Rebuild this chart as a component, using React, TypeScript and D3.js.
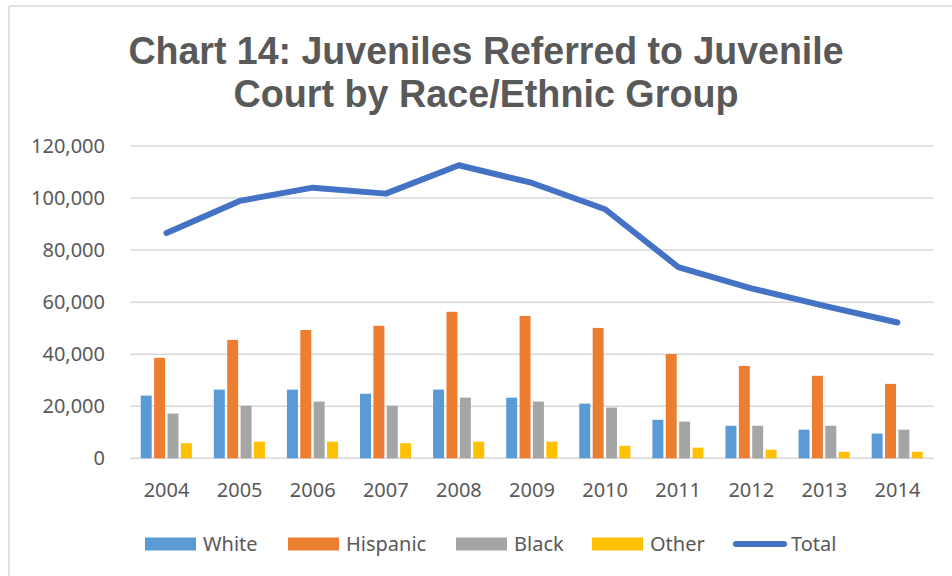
import React, { useEffect, useRef } from "react";
import * as d3 from "d3";

const years = ["2004", "2005", "2006", "2007", "2008", "2009", "2010", "2011", "2012", "2013", "2014"];
const seriesNames = ["White", "Hispanic", "Black", "Other"];
const white = [24100, 26400, 26400, 24800, 26400, 23300, 21000, 14800, 12500, 11000, 9500];
const hispanic = [38600, 45500, 49300, 50900, 56300, 54700, 50100, 40100, 35500, 31700, 28600];
const black = [17200, 20200, 21800, 20200, 23300, 21800, 19500, 14100, 12500, 12500, 11000];
const other = [5800, 6400, 6400, 5800, 6400, 6400, 4800, 4100, 3300, 2500, 2500];
const total = [86600, 98900, 104000, 101700, 112600, 105800, 95700, 73500, 65300, 58600, 52200];
const yTicks = [0, 20000, 40000, 60000, 80000, 100000, 120000];
const colors = ["#5B9BD5", "#ED7D31", "#A5A5A5", "#FFC000"];
const totalColor = "#4472C4";
const titleLines = ["Chart 14: Juveniles Referred to Juvenile", "Court by Race/Ethnic Group"];

export default function App() {
  const ref = useRef<SVGSVGElement>(null);
  useEffect(() => {
    const svg = d3.select(ref.current);
    svg.selectAll("*").remove();
    const textColor = "#595959";
    const font = "'Noto Sans', 'Open Sans', sans-serif";

    // chart border
    svg.append("line").attr("x1", 9).attr("x2", 952).attr("y1", 6).attr("y2", 6).attr("stroke", "#D9D9D9").attr("stroke-width", 1.5);
    svg.append("line").attr("x1", 9).attr("x2", 9).attr("y1", 6).attr("y2", 576).attr("stroke", "#D9D9D9").attr("stroke-width", 1.5);

    // title
    const tl = [{ t: titleLines[0], y: 64, w: 715 }, { t: titleLines[1], y: 107, w: 505 }];
    tl.forEach((l) => {
      svg.append("text").attr("x", 486).attr("y", l.y).attr("text-anchor", "middle")
        .attr("font-family", "'Liberation Sans', Arial, sans-serif").attr("font-weight", "bold")
        .attr("font-size", 39).attr("fill", textColor)
        .attr("textLength", l.w).attr("lengthAdjust", "spacingAndGlyphs").text(l.t);
    });

    const x = d3.scaleBand<string>().domain(years).range([130, 934]).padding(0);
    const y = d3.scaleLinear().domain([0, 120000]).range([458.3, 146]);

    // gridlines
    svg.append("g").selectAll("line").data(yTicks).join("line")
      .attr("x1", 130).attr("x2", 934).attr("y1", (d) => y(d)).attr("y2", (d) => y(d))
      .attr("stroke", "#D9D9D9").attr("stroke-width", 1.5);

    // y labels
    svg.append("g").selectAll("text").data(yTicks).join("text")
      .attr("x", 105).attr("y", (d) => y(d) + 7).attr("text-anchor", "end")
      .attr("font-family", font).attr("font-size", 20).attr("fill", textColor)
      .text((d) => d3.format(",")(d));

    // x labels
    svg.append("g").selectAll("text").data(years).join("text")
      .attr("x", (d) => (x(d) as number) + x.bandwidth() / 2).attr("y", 497).attr("text-anchor", "middle")
      .attr("font-family", font).attr("font-size", 20).attr("fill", textColor)
      .text((d) => d);

    // bars
    const seriesData = [white, hispanic, black, other];
    const inner = d3.scaleBand<string>().domain(seriesNames).range([-27, 26.5]).paddingInner(0.18).paddingOuter(0.09);
    seriesData.forEach((vals, si) => {
      svg.append("g").selectAll("rect").data(vals).join("rect")
        .attr("x", (d, i) => (x(years[i]) as number) + x.bandwidth() / 2 + (inner(seriesNames[si]) as number))
        .attr("width", inner.bandwidth())
        .attr("y", (d) => y(d))
        .attr("height", (d) => y(0) - y(d))
        .attr("fill", colors[si]);
    });

    // total line
    const line = d3.line<number>()
      .x((d, i) => (x(years[i]) as number) + x.bandwidth() / 2)
      .y((d) => y(d));
    svg.append("path").datum(total).attr("d", line).attr("fill", "none")
      .attr("stroke", totalColor).attr("stroke-width", 6)
      .attr("stroke-linecap", "round").attr("stroke-linejoin", "round");

    // legend
    const legendItems = [
      { name: "White", x: 145, c: colors[0], kind: "rect" },
      { name: "Hispanic", x: 288, c: colors[1], kind: "rect" },
      { name: "Black", x: 456, c: colors[2], kind: "rect" },
      { name: "Other", x: 592, c: colors[3], kind: "rect" },
      { name: "Total", x: 733, c: totalColor, kind: "line" },
    ];
    const ly = 544;
    legendItems.forEach((it) => {
      if (it.kind === "rect") {
        svg.append("rect").attr("x", it.x).attr("y", ly - 6.5).attr("width", 51).attr("height", 13).attr("fill", it.c);
      } else {
        svg.append("line").attr("x1", it.x + 3).attr("x2", it.x + 51).attr("y1", ly).attr("y2", ly)
          .attr("stroke", it.c).attr("stroke-width", 6).attr("stroke-linecap", "round");
      }
      svg.append("text").attr("x", it.x + 58).attr("y", ly + 7)
        .attr("font-family", font).attr("font-size", 20).attr("fill", textColor).text(it.name);
    });
  }, []);

  return (
    <div style={{ position: "fixed", left: 0, top: 0, width: 952, height: 576, background: "#fff" }}>
      <svg ref={ref} width={952} height={576} style={{ display: "block" }} />
    </div>
  );
}
